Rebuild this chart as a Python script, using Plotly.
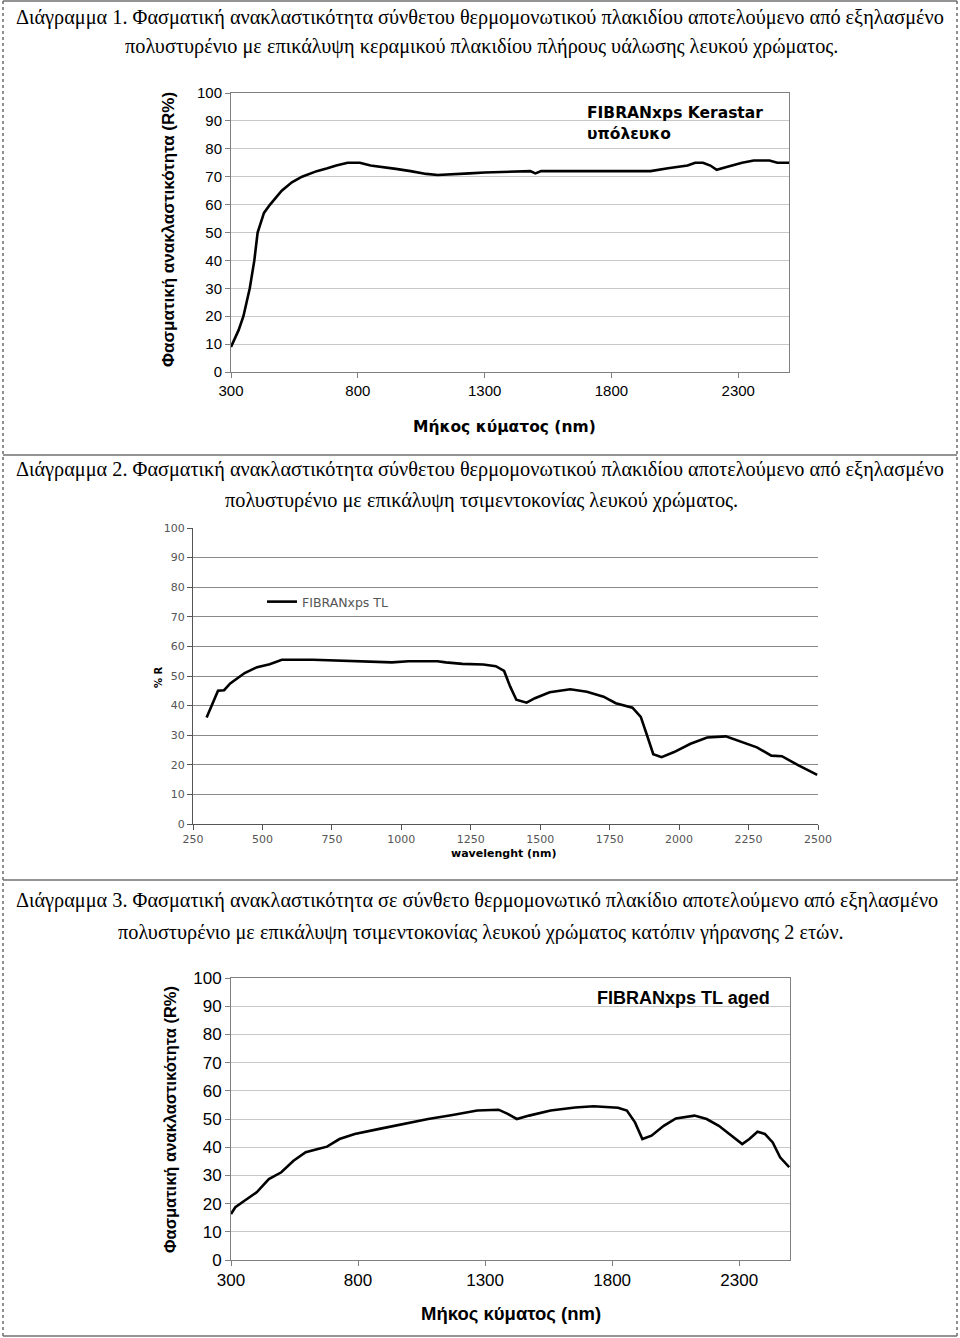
import plotly.graph_objects as go

W, H = 960, 1338

# ---------------- data ----------------
# Chart 1: FIBRANxps Kerastar υπόλευκο
wl1 = [300, 308, 330, 349, 374, 392, 405, 430, 454, 500, 540, 580, 638, 680, 715, 760, 808,
       850, 900, 950, 1008, 1070, 1115, 1177, 1240, 1300, 1380, 1438, 1480, 1500, 1523,
       1600, 1700, 1800, 1954, 2023, 2100, 2130, 2161, 2190, 2215, 2254, 2315, 2361, 2423,
       2454, 2500]
r1 = [9, 10.5, 15, 20, 30, 40, 50, 57, 60, 65, 68, 70, 72, 73, 74, 75, 75,
      74, 73.5, 72.8, 72, 71, 70.6, 71, 71.2, 71.5, 71.8, 72, 72, 71.2, 72,
      72, 72, 72, 72, 73, 74, 75, 75, 74, 72.5, 73.5, 75, 75.8, 75.8,
      75, 75]

# Chart 2: FIBRANxps TL
wl2 = [299, 316, 340, 362, 384, 436, 481, 526, 570, 682, 772, 832, 966, 1026, 1130, 1160,
       1220, 1295, 1340, 1370, 1392, 1414, 1451, 1481, 1534, 1608, 1668, 1728, 1772, 1832,
       1862, 1885, 1907, 1937, 1982, 2041, 2101, 2168, 2220, 2280, 2332, 2370, 2430, 2497]
r2 = [36, 39.7, 45, 45.2, 47.5, 51, 53, 54, 55.5, 55.5, 55.2, 54.9, 54.6, 55, 55, 54.6,
      54.1, 53.9, 53.3, 51.7, 46.4, 42, 41, 42.5, 44.5, 45.5, 44.7, 43, 40.8, 39.3,
      36.2, 29.8, 23.6, 22.6, 24.3, 27.1, 29.2, 29.6, 27.8, 25.9, 23.1, 22.9, 19.8, 16.6]

# Chart 3: FIBRANxps TL aged
wl3 = [300, 317, 353, 401, 449, 498, 546, 594, 642, 678, 727, 787, 884, 980, 1076, 1172,
       1269, 1353, 1389, 1425, 1473, 1558, 1654, 1727, 1823, 1858, 1890, 1919, 1955, 2003,
       2051, 2124, 2172, 2220, 2268, 2312, 2340, 2372, 2401, 2432, 2461, 2497]
r3 = [16.3, 18.7, 21, 24, 28.7, 31.1, 35.2, 38.2, 39.4, 40.2, 42.9, 44.7, 46.5, 48.2, 50, 51.4,
      53, 53.3, 51.8, 50, 51.2, 53, 54.1, 54.5, 54, 53, 48.8, 42.9, 44.1, 47.6,
      50.2, 51.2, 50, 47.6, 44.1, 41.1, 42.9, 45.5, 44.7, 41.7, 36.4, 32.9]

ticks_a = [300, 800, 1300, 1800, 2300]
ticks_b = [250, 500, 750, 1000, 1250, 1500, 1750, 2000, 2250, 2500]
yticks = list(range(0, 101, 10))

captions = [
    ("Διάγραμμα 1. Φασματική ανακλαστικότητα σύνθετου θερμομονωτικού πλακιδίου αποτελούμενο από εξηλασμένο",
     "πολυστυρένιο με επικάλυψη κεραμικού πλακιδίου πλήρους υάλωσης λευκού χρώματος."),
    ("Διάγραμμα 2. Φασματική ανακλαστικότητα σύνθετου θερμομονωτικού πλακιδίου αποτελούμενο από εξηλασμένο",
     "πολυστυρένιο με επικάλυψη τσιμεντοκονίας λευκού χρώματος."),
    ("Διάγραμμα 3. Φασματική ανακλαστικότητα σε σύνθετο θερμομονωτικό πλακίδιο αποτελούμενο από εξηλασμένο",
     "πολυστυρένιο με επικάλυψη τσιμεντοκονίας λευκού χρώματος κατόπιν γήρανσης 2 ετών."),
]

# ---------------- helpers ----------------
def px(x):
    return x / W

def py(y):
    return 1 - y / H

fig = go.Figure()
fig.add_trace(go.Scatter(x=wl1, y=r1, mode="lines", line=dict(color="black", width=2.6),
                         xaxis="x", yaxis="y", showlegend=False))
fig.add_trace(go.Scatter(x=wl2, y=r2, mode="lines", line=dict(color="black", width=2.6),
                         xaxis="x2", yaxis="y2", name="FIBRANxps TL", showlegend=True))
fig.add_trace(go.Scatter(x=wl3, y=r3, mode="lines", line=dict(color="black", width=2.6),
                         xaxis="x3", yaxis="y3", showlegend=False))

arial = "Liberation Sans, Arial, sans-serif"
dejavu = "DejaVu Sans, Verdana, sans-serif"
serif = "Liberation Serif, Times New Roman, serif"

common = dict(automargin=False, zeroline=False, showline=True, ticks="outside", ticklen=5)

layout = dict(
    template="none",
    width=W, height=H, margin=dict(l=0, r=0, t=0, b=0, autoexpand=False),
    paper_bgcolor="white", plot_bgcolor="white",
    # chart 1
    xaxis=dict(domain=[px(231), px(789)], anchor="y", range=[300, 2500], tickvals=ticks_a,
               showgrid=False, linecolor="#808080", mirror=True, tickcolor="#808080",
               tickfont=dict(family=arial, size=15, color="black"), **common),
    yaxis=dict(domain=[py(372), py(93)], anchor="x", range=[0, 100], tickvals=yticks,
               showgrid=True, gridcolor="#c8c8c8", linecolor="#808080", mirror=True,
               tickcolor="#808080", tickfont=dict(family=arial, size=15, color="black"), **common),
    # chart 2
    xaxis2=dict(domain=[px(193), px(818)], anchor="y2", range=[250, 2500], tickvals=ticks_b,
                showgrid=False, linecolor="#555555", tickcolor="#555555",
                tickfont=dict(family=dejavu, size=11, color="#555555"), **common),
    yaxis2=dict(domain=[py(824), py(528)], anchor="x2", range=[0, 100], tickvals=yticks,
                showgrid=True, gridcolor="#8a8a8a", linecolor="#555555", tickcolor="#555555",
                tickfont=dict(family=dejavu, size=11, color="#555555"), **common),
    # chart 3
    xaxis3=dict(domain=[px(231), px(790)], anchor="y3", range=[300, 2500], tickvals=ticks_a,
                showgrid=False, linecolor="#808080", mirror=True, tickcolor="#808080",
                tickfont=dict(family=arial, size=17, color="black"), **common),
    yaxis3=dict(domain=[py(1260), py(978)], anchor="x3", range=[0, 100], tickvals=yticks,
                showgrid=True, gridcolor="#c8c8c8", linecolor="#808080", mirror=True,
                tickcolor="#808080", tickfont=dict(family=arial, size=17, color="black"), **common),
    legend=dict(x=px(262), y=py(602), xanchor="left", yanchor="middle",
                bgcolor="rgba(0,0,0,0)", borderwidth=0,
                font=dict(family=dejavu, size=12.5, color="#555555"), itemwidth=30),
)
fig.update_layout(**layout)

ann = []
# captions
cap_y = [(17, 46), (470, 500), (900, 932)]
for (l1, l2), (y1, y2) in zip(captions, cap_y):
    ann.append(dict(x=px(14), y=py(y1), text=l1, xanchor="left", yanchor="middle",
                    font=dict(family=serif, size=20.3, color="black")))
    ann.append(dict(x=px(481), y=py(y2), text=l2, xanchor="center", yanchor="middle",
                    font=dict(family=serif, size=20.3, color="black")))

# chart 1 texts
ann.append(dict(x=px(585), y=py(113), text="<b>FIBRANxps Kerastar</b>", xanchor="left",
                yanchor="middle", font=dict(family=dejavu, size=15.5, color="black")))
ann.append(dict(x=px(585), y=py(134), text="<b>υπόλευκο</b>", xanchor="left",
                yanchor="middle", font=dict(family=dejavu, size=15.5, color="black")))
ann.append(dict(x=px(505), y=py(427), text="<b>Μήκος κύματος (nm)</b>", xanchor="center",
                yanchor="middle", font=dict(family=dejavu, size=15.5, color="black")))
ann.append(dict(x=px(168), y=py(230), text="<b>Φασματική ανακλαστικότητα (R%)</b>",
                textangle=-90, xanchor="center", yanchor="middle",
                font=dict(family=arial, size=17, color="black")))
# chart 2 texts
ann.append(dict(x=px(503), y=py(853), text="<b>wavelenght (nm)</b>", xanchor="center",
                yanchor="middle", font=dict(family=dejavu, size=11, color="black")))
ann.append(dict(x=px(158), y=py(677), text="<b>% R</b>", textangle=-90, xanchor="center",
                yanchor="middle", font=dict(family=dejavu, size=10, color="black")))
# chart 3 texts
ann.append(dict(x=px(772), y=py(998), text="<b>FIBRANxps TL aged</b>", xanchor="right",
                yanchor="middle", font=dict(family=arial, size=18, color="black")))
ann.append(dict(x=px(511), y=py(1313), text="<b>Μήκος κύματος (nm)</b>", xanchor="center",
                yanchor="middle", font=dict(family=arial, size=18.5, color="black")))
ann.append(dict(x=px(170), y=py(1120), text="<b>Φασματική ανακλαστικότητα (R%)</b>",
                textangle=-90, xanchor="center", yanchor="middle",
                font=dict(family=arial, size=16.5, color="black")))

for a in ann:
    a.update(xref="paper", yref="paper", showarrow=False)
fig.update_layout(annotations=ann)

# page frame
shapes = []
for x in (3, 957):
    shapes.append(dict(type="line", xref="paper", yref="paper", x0=px(x), x1=px(x),
                       y0=py(1), y1=py(1336), line=dict(color="#909090", width=2, dash="dot")))
for y in (1, 455, 880, 1336):
    shapes.append(dict(type="line", xref="paper", yref="paper", x0=px(3), x1=px(957),
                       y0=py(y), y1=py(y), line=dict(color="#707070", width=1.5)))
fig.update_layout(shapes=shapes)

fig.write_html("out.html", config={"displayModeBar": False},
               post_script="document.body.style.margin='0';document.body.style.overflow='hidden';")
